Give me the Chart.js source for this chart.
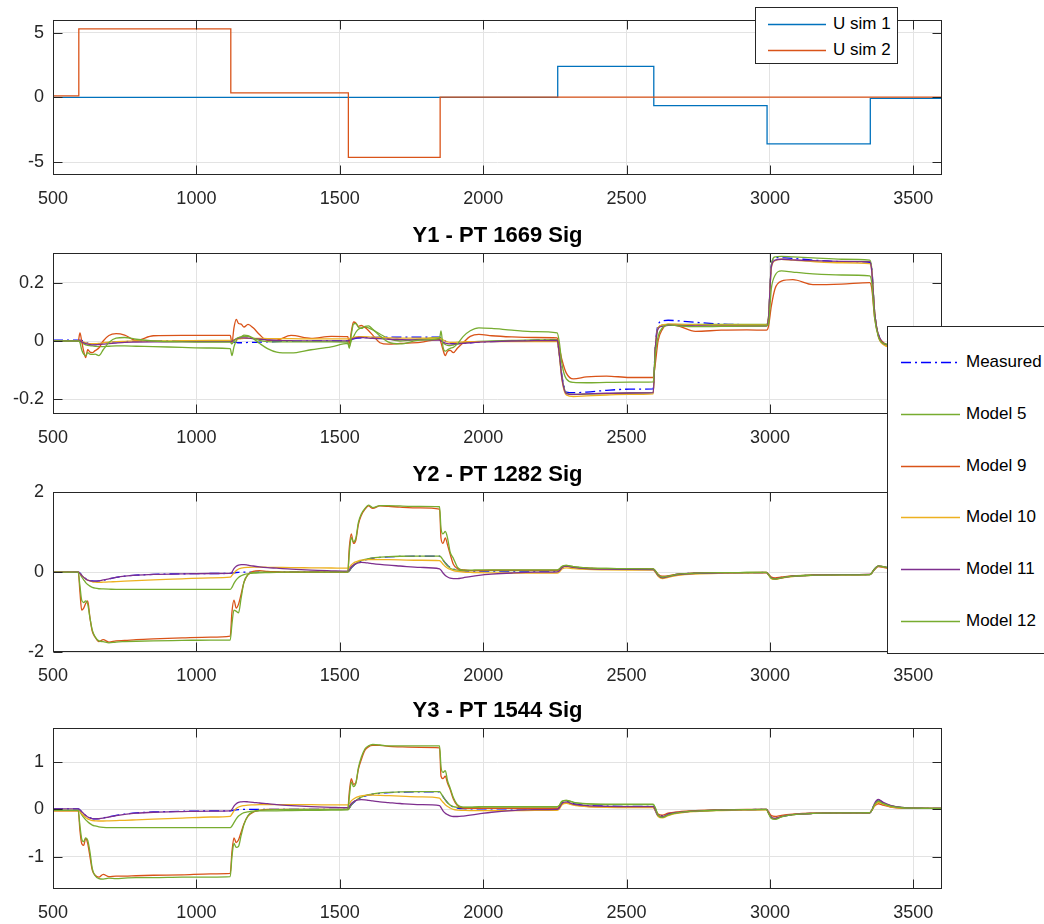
<!DOCTYPE html>
<html>
<head>
<meta charset="utf-8">
<script src="https://cdn.jsdelivr.net/npm/chart.js@4.4.1/dist/chart.umd.min.js"></script>
<style>
  html, body { margin: 0; padding: 0; background: #fff; width: 1044px; height: 924px; overflow: hidden; }
  #wrap { position: relative; width: 1044px; height: 924px; overflow: hidden; }
  #wrap canvas { position: absolute; left: 0; }
  .legend { position: absolute; background: #fff; border: 1px solid #262626; box-sizing: border-box;
            font-family: 'Liberation Sans', Arial, sans-serif; font-size: 17px; color: #000; z-index: 5; }
  .legend .row { position: absolute; left: 0; height: 20px; line-height: 20px; white-space: nowrap; }
  .legend svg { position: absolute; top: 0; }
  .legend span { position: absolute; top: 0; }
</style>
</head>
<body>
<div id="wrap">
  <canvas id="cU"  width="1044" height="215" style="top:0px"></canvas>
  <canvas id="cY1" width="1044" height="232" style="top:222px"></canvas>
  <canvas id="cY2" width="1044" height="231" style="top:461px"></canvas>
  <canvas id="cY3" width="1044" height="227" style="top:697px"></canvas>
  <div id="legU" class="legend" style="left:755px;top:7px;width:143px;height:57px"></div>
  <div id="legY" class="legend" style="left:887px;top:326px;width:220px;height:328px"></div>
</div>
<script>
// ---- tick values ----
const X_TICKS  = [500, 1000, 1500, 2000, 2500, 3000, 3500];
const U_TICKS  = [-5, 0, 5];
const Y1_TICKS = [-0.2, 0, 0.2];
const Y2_TICKS = [-2, 0, 2];
const Y3_TICKS = [-1, 0, 1];

// ---- input signals (value holds from each switching time onward) ----
const U1_TIME = [500, 2260, 2595, 2990, 3350, 3600];
const U1      = [0, 2.4, -0.63, -3.6, -0.08, -0.08];
const U2_TIME = [500, 590, 1120, 1530, 1850, 3600];
const U2      = [0.12, 5.3, 0.35, -4.64, 0.02, 0.02];

// ---- sample times shared by all output series ----
const T = [
  500,588,594,600,607,614,621,629,637,647,660,675,695,720,750,790,850,950,1050,1118,
  1124,1131,1139,1147,1156,1166,1180,1198,1220,1248,1280,1330,1400,1470,1528,
  1533,1540,1548,1556,1565,1575,1588,1600,1615,1640,1670,1710,1780,1848,
  1853,1860,1868,1876,1885,1896,1910,1930,1955,1985,2030,2100,2180,2258,
  2265,2275,2290,2315,2360,2430,2510,2593,
  2600,2610,2625,2645,2680,2740,2830,2920,2988,
  2995,3005,3018,3040,3080,3150,3250,3348,
  3355,3365,3378,3395,3420,3460,3530,3600
];

// ---- Y1 - PT 1669 ----
const Y1_MEAS = [
  0.003,0.003,0.003,0.002,0.0,-0.004,-0.007,-0.009,-0.01,-0.01,-0.009,-0.007,-0.005,-0.003,-0.002,-0.001,0.0,0.0,0.0,0.0,
  -0.002,-0.004,-0.005,-0.006,-0.006,-0.006,-0.005,-0.005,-0.004,-0.003,-0.002,-0.001,0.0,0.0,0.0,
  0.001,0.004,0.007,0.009,0.01,0.011,0.012,0.012,0.012,0.013,0.013,0.013,0.013,0.013,
  0.01,0.005,0.0,-0.004,-0.007,-0.009,-0.009,-0.008,-0.006,-0.004,-0.002,0.0,0.003,0.005,
  -0.04,-0.12,-0.175,-0.177,-0.175,-0.169,-0.165,-0.164,
  -0.02,0.055,0.069,0.071,0.069,0.064,0.058,0.056,0.055,
  0.08,0.26,0.286,0.285,0.283,0.277,0.272,0.269,
  0.25,0.1,0.025,-0.005,-0.01,-0.012,-0.01,-0.008
];
const Y1_M5 = [
  0.0,0.0,-0.002,-0.006,-0.01,-0.013,-0.015,-0.016,-0.017,-0.018,-0.019,-0.019,-0.018,-0.017,-0.017,-0.018,-0.019,-0.022,-0.024,-0.026,
  -0.05,-0.02,0.0,0.01,0.014,0.016,0.016,0.008,-0.008,-0.026,-0.038,-0.041,-0.03,-0.02,-0.008,
  -0.02,0.0,0.015,0.03,0.04,0.045,0.048,0.045,0.038,0.024,0.008,0.0,0.006,0.012,
  0.005,-0.005,-0.012,-0.015,-0.016,-0.014,-0.01,-0.006,-0.003,-0.001,0.0,0.002,0.004,0.005,
  -0.04,-0.125,-0.178,-0.183,-0.182,-0.18,-0.178,-0.177,
  -0.03,0.045,0.055,0.057,0.057,0.057,0.057,0.057,0.057,
  0.08,0.26,0.288,0.29,0.288,0.285,0.28,0.277,
  0.25,0.1,0.02,-0.008,-0.015,-0.015,-0.012,-0.01
];
const Y1_M9 = [
  0.0,0.0,0.028,0.0,-0.035,-0.057,-0.03,-0.038,-0.04,-0.033,-0.024,0.0,0.019,0.025,0.02,0.002,0.018,0.019,0.019,0.019,
  -0.006,0.045,0.074,0.06,0.058,0.048,0.057,0.045,0.022,0.002,0.003,0.019,0.009,0.016,0.015,
  -0.01,0.03,0.065,0.062,0.05,0.053,0.046,0.036,0.02,-0.006,-0.011,-0.008,-0.005,0.006,
  -0.006,-0.03,-0.05,-0.035,-0.032,-0.04,-0.025,-0.006,0.016,0.023,0.018,0.014,0.012,0.011,
  -0.02,-0.065,-0.11,-0.13,-0.123,-0.12,-0.125,-0.125,
  -0.08,0.0,0.04,0.057,0.052,0.033,0.037,0.038,0.037,
  0.05,0.12,0.18,0.205,0.21,0.193,0.195,0.2,
  0.18,0.08,0.02,-0.005,-0.015,-0.015,-0.012,-0.01
];
const Y1_M10 = [
  0.0,0.0,0.0,-0.002,-0.004,-0.006,-0.008,-0.009,-0.009,-0.009,-0.008,-0.006,-0.004,-0.002,-0.001,0.0,0.0,0.001,0.002,0.002,
  0.002,0.003,0.005,0.007,0.008,0.009,0.009,0.009,0.009,0.008,0.008,0.008,0.007,0.007,0.007,
  0.008,0.01,0.012,0.014,0.015,0.015,0.015,0.014,0.013,0.012,0.011,0.01,0.01,0.01,
  0.008,0.004,0.0,-0.003,-0.005,-0.005,-0.004,-0.003,-0.002,-0.002,-0.002,-0.002,-0.002,-0.002,
  -0.045,-0.135,-0.185,-0.19,-0.188,-0.185,-0.183,-0.181,
  -0.03,0.045,0.055,0.058,0.057,0.055,0.054,0.054,0.054,
  0.08,0.25,0.275,0.28,0.277,0.272,0.268,0.265,
  0.24,0.1,0.015,-0.012,-0.02,-0.018,-0.014,-0.01
];
const Y1_M11 = [
  0.0,0.0,0.0,-0.003,-0.006,-0.009,-0.011,-0.012,-0.013,-0.013,-0.012,-0.011,-0.009,-0.007,-0.005,-0.004,-0.003,-0.002,-0.002,-0.002,
  0.0,0.003,0.007,0.01,0.011,0.011,0.01,0.008,0.006,0.004,0.002,0.001,0.0,0.0,0.0,
  0.002,0.006,0.009,0.011,0.012,0.012,0.011,0.01,0.009,0.008,0.006,0.005,0.004,0.003,
  0.0,-0.004,-0.007,-0.009,-0.01,-0.01,-0.009,-0.008,-0.006,-0.004,-0.002,0.0,0.001,0.002,
  -0.04,-0.13,-0.18,-0.183,-0.181,-0.179,-0.178,-0.177,
  -0.03,0.042,0.05,0.054,0.053,0.052,0.051,0.051,0.051,
  0.08,0.255,0.277,0.28,0.278,0.275,0.273,0.272,
  0.24,0.1,0.02,-0.008,-0.013,-0.013,-0.01,-0.008
];
const Y1_M12 = [
  0.0,0.0,-0.005,-0.03,-0.045,-0.05,-0.04,-0.045,-0.046,-0.045,-0.05,-0.03,-0.005,0.01,0.012,0.006,0.0,-0.003,-0.004,-0.004,
  -0.01,0.0,0.008,0.012,0.014,0.02,0.018,0.01,0.002,-0.002,-0.003,-0.003,-0.003,-0.003,-0.004,
  -0.025,0.02,0.058,0.06,0.047,0.043,0.05,0.052,0.04,0.017,-0.004,-0.01,0.003,0.009,
  0.035,-0.02,-0.035,-0.03,-0.025,-0.022,-0.01,0.015,0.035,0.045,0.043,0.037,0.032,0.028,
  0.0,-0.08,-0.13,-0.142,-0.143,-0.142,-0.141,-0.14,
  -0.05,0.015,0.045,0.055,0.052,0.049,0.05,0.051,0.052,
  0.06,0.18,0.225,0.24,0.236,0.23,0.226,0.223,
  0.2,0.08,0.015,-0.008,-0.012,-0.012,-0.01,-0.008
];

// ---- Y2 - PT 1282 ----
const Y2_MEAS = [
  0.0,0.0,-0.02,-0.07,-0.12,-0.16,-0.19,-0.21,-0.22,-0.225,-0.22,-0.2,-0.17,-0.13,-0.1,-0.075,-0.055,-0.04,-0.033,-0.03,
  -0.025,-0.015,-0.008,-0.003,0.0,0.002,0.003,0.003,0.003,0.003,0.003,0.003,0.003,0.003,0.003,
  0.03,0.1,0.16,0.21,0.25,0.28,0.31,0.33,0.35,0.37,0.385,0.395,0.4,0.4,
  0.37,0.3,0.23,0.17,0.12,0.08,0.05,0.035,0.03,0.03,0.03,0.03,0.03,0.03,
  0.06,0.13,0.16,0.13,0.1,0.085,0.08,0.075,
  0.03,-0.08,-0.14,-0.1,-0.05,-0.025,-0.015,-0.01,-0.008,
  -0.06,-0.14,-0.16,-0.135,-0.1,-0.075,-0.062,-0.058,
  -0.02,0.08,0.15,0.13,0.09,0.06,0.04,0.03
];
const Y2_M5 = [
  0.0,0.0,-0.04,-0.12,-0.19,-0.26,-0.31,-0.35,-0.38,-0.4,-0.415,-0.42,-0.425,-0.43,-0.43,-0.43,-0.43,-0.43,-0.43,-0.43,
  -0.38,-0.28,-0.19,-0.13,-0.09,-0.06,-0.04,-0.025,-0.015,-0.01,-0.005,0.0,0.0,0.0,0.0,
  0.03,0.11,0.17,0.22,0.26,0.29,0.32,0.34,0.36,0.375,0.39,0.4,0.405,0.405,
  0.38,0.31,0.23,0.16,0.1,0.07,0.05,0.04,0.04,0.04,0.04,0.04,0.04,0.04,
  0.07,0.14,0.17,0.14,0.11,0.095,0.09,0.085,
  0.04,-0.07,-0.13,-0.1,-0.05,-0.025,-0.012,-0.008,-0.005,
  -0.06,-0.15,-0.17,-0.14,-0.1,-0.075,-0.065,-0.06,
  -0.02,0.08,0.16,0.14,0.1,0.06,0.04,0.03
];
const Y2_M9 = [
  0.0,0.0,-0.5,-0.95,-0.9,-0.78,-0.72,-1.15,-1.48,-1.63,-1.74,-1.69,-1.75,-1.72,-1.71,-1.69,-1.67,-1.645,-1.625,-1.6,
  -1.0,-0.7,-0.9,-0.8,-0.55,-0.25,-0.06,0.02,0.04,0.02,0.01,0.0,0.0,0.0,0.0,
  0.6,0.96,0.72,0.8,1.2,1.42,1.58,1.66,1.6,1.66,1.65,1.63,1.61,1.58,
  0.85,0.72,0.86,0.68,0.45,0.2,0.09,0.06,0.04,0.04,0.05,0.05,0.05,0.05,
  0.07,0.13,0.15,0.12,0.1,0.085,0.08,0.075,
  0.03,-0.05,-0.1,-0.09,-0.05,-0.025,-0.015,-0.01,-0.008,
  -0.05,-0.12,-0.14,-0.12,-0.09,-0.07,-0.06,-0.055,
  -0.02,0.07,0.14,0.12,0.09,0.06,0.04,0.03
];
const Y2_M10 = [
  0.0,0.0,-0.03,-0.08,-0.13,-0.17,-0.2,-0.22,-0.24,-0.25,-0.255,-0.25,-0.245,-0.235,-0.225,-0.21,-0.19,-0.165,-0.14,-0.125,
  -0.08,-0.02,0.04,0.08,0.1,0.115,0.122,0.125,0.125,0.123,0.12,0.115,0.11,0.105,0.1,
  0.12,0.18,0.23,0.26,0.285,0.3,0.31,0.315,0.318,0.317,0.313,0.308,0.3,0.29,
  0.26,0.2,0.14,0.1,0.07,0.04,0.02,0.005,-0.005,-0.012,-0.018,-0.02,-0.02,-0.02,
  0.0,0.08,0.11,0.09,0.07,0.06,0.055,0.05,
  0.0,-0.1,-0.16,-0.13,-0.08,-0.045,-0.025,-0.018,-0.015,
  -0.07,-0.16,-0.18,-0.15,-0.11,-0.08,-0.068,-0.063,
  -0.02,0.07,0.15,0.13,0.09,0.06,0.04,0.03
];
const Y2_M11 = [
  0.0,0.0,-0.03,-0.08,-0.13,-0.17,-0.2,-0.215,-0.225,-0.225,-0.215,-0.195,-0.165,-0.13,-0.1,-0.075,-0.055,-0.04,-0.033,-0.03,
  0.0,0.09,0.15,0.18,0.19,0.19,0.175,0.155,0.135,0.115,0.1,0.075,0.05,0.035,0.025,
  0.06,0.13,0.18,0.21,0.235,0.245,0.24,0.23,0.215,0.195,0.175,0.155,0.12,0.085,
  0.05,-0.02,-0.08,-0.12,-0.15,-0.16,-0.16,-0.14,-0.11,-0.08,-0.05,-0.02,0.0,0.01,
  0.03,0.11,0.15,0.12,0.09,0.075,0.07,0.065,
  0.02,-0.08,-0.14,-0.11,-0.06,-0.03,-0.018,-0.012,-0.01,
  -0.06,-0.14,-0.165,-0.14,-0.1,-0.075,-0.063,-0.058,
  -0.02,0.08,0.16,0.14,0.1,0.06,0.04,0.03
];
const Y2_M12 = [
  0.0,0.0,-0.35,-0.7,-0.76,-0.72,-0.8,-1.15,-1.45,-1.62,-1.72,-1.74,-1.77,-1.75,-1.74,-1.73,-1.72,-1.71,-1.7,-1.7,
  -1.3,-0.95,-0.98,-1.02,-0.65,-0.25,-0.06,-0.01,0.0,0.0,0.0,0.0,0.0,0.0,0.0,
  0.45,0.87,0.76,0.85,1.25,1.46,1.6,1.68,1.62,1.67,1.67,1.66,1.65,1.64,
  1.1,0.96,1.02,0.85,0.5,0.35,0.13,0.05,0.05,0.06,0.06,0.06,0.06,0.06,
  0.08,0.15,0.17,0.14,0.11,0.095,0.09,0.085,
  0.04,-0.06,-0.12,-0.1,-0.05,-0.025,-0.012,-0.008,-0.006,
  -0.06,-0.15,-0.17,-0.14,-0.1,-0.075,-0.065,-0.06,
  -0.02,0.08,0.16,0.14,0.1,0.06,0.04,0.03
];

// ---- Y3 - PT 1544 ----
const Y3_MEAS = [
  0.01,0.01,-0.01,-0.05,-0.09,-0.13,-0.16,-0.18,-0.195,-0.2,-0.195,-0.18,-0.155,-0.125,-0.1,-0.075,-0.055,-0.04,-0.033,-0.03,
  -0.025,-0.015,-0.008,-0.003,0.0,0.0,0.0,0.0,0.0,0.0,0.0,0.0,0.0,0.0,0.0,
  0.03,0.09,0.14,0.18,0.22,0.25,0.28,0.3,0.32,0.34,0.355,0.365,0.37,0.37,
  0.34,0.27,0.2,0.14,0.09,0.05,0.03,0.015,0.01,0.01,0.01,0.01,0.01,0.01,
  0.04,0.14,0.17,0.12,0.085,0.07,0.065,0.065,
  -0.02,-0.13,-0.13,-0.09,-0.06,-0.035,-0.015,-0.005,0.0,
  -0.07,-0.16,-0.185,-0.15,-0.11,-0.085,-0.075,-0.07,
  -0.02,0.12,0.2,0.14,0.08,0.035,0.02,0.02
];
const Y3_M5 = [
  -0.02,-0.02,-0.05,-0.11,-0.17,-0.22,-0.26,-0.3,-0.33,-0.35,-0.37,-0.38,-0.385,-0.385,-0.385,-0.385,-0.385,-0.385,-0.385,-0.385,
  -0.35,-0.28,-0.2,-0.14,-0.1,-0.07,-0.05,-0.035,-0.03,-0.03,-0.03,-0.025,-0.02,-0.015,-0.01,
  0.02,0.09,0.15,0.19,0.23,0.26,0.29,0.31,0.33,0.35,0.36,0.37,0.375,0.375,
  0.34,0.27,0.2,0.14,0.09,0.06,0.045,0.04,0.04,0.045,0.05,0.05,0.05,0.05,
  0.08,0.17,0.19,0.15,0.115,0.1,0.1,0.1,
  0.03,-0.12,-0.17,-0.12,-0.07,-0.035,-0.015,-0.005,0.0,
  -0.08,-0.18,-0.2,-0.15,-0.11,-0.085,-0.075,-0.07,
  -0.02,0.1,0.18,0.13,0.08,0.04,0.025,0.02
];
const Y3_M9 = [
  -0.03,-0.03,-0.45,-0.72,-0.76,-0.61,-0.72,-1.0,-1.28,-1.39,-1.43,-1.37,-1.42,-1.41,-1.41,-1.4,-1.39,-1.38,-1.36,-1.35,
  -0.9,-0.6,-0.7,-0.64,-0.48,-0.3,-0.14,-0.06,-0.02,0.0,0.0,0.0,0.0,0.0,0.0,
  0.35,0.65,0.53,0.56,0.85,1.05,1.25,1.32,1.35,1.35,1.33,1.32,1.31,1.3,
  0.7,0.65,0.7,0.55,0.42,0.22,0.08,0.03,0.02,0.02,0.02,0.02,0.02,0.02,
  0.04,0.12,0.14,0.1,0.065,0.05,0.045,0.045,
  -0.01,-0.1,-0.12,-0.08,-0.05,-0.025,-0.01,0.0,0.0,
  -0.05,-0.13,-0.15,-0.125,-0.1,-0.08,-0.075,-0.07,
  -0.02,0.07,0.12,0.09,0.05,0.025,0.02,0.02
];
const Y3_M10 = [
  -0.03,-0.03,-0.05,-0.09,-0.13,-0.17,-0.2,-0.22,-0.235,-0.24,-0.245,-0.245,-0.24,-0.235,-0.23,-0.22,-0.205,-0.185,-0.16,-0.145,
  -0.1,-0.03,0.02,0.05,0.07,0.08,0.09,0.095,0.1,0.1,0.1,0.1,0.1,0.095,0.095,
  0.12,0.18,0.22,0.25,0.27,0.285,0.295,0.3,0.3,0.298,0.29,0.28,0.265,0.24,
  0.2,0.15,0.1,0.06,0.03,0.0,-0.015,-0.02,-0.025,-0.025,-0.025,-0.025,-0.02,-0.02,
  0.0,0.1,0.13,0.09,0.06,0.045,0.04,0.04,
  -0.02,-0.15,-0.18,-0.13,-0.08,-0.045,-0.025,-0.015,-0.01,
  -0.08,-0.17,-0.19,-0.15,-0.11,-0.085,-0.075,-0.07,
  -0.02,0.08,0.15,0.11,0.06,0.03,0.02,0.02
];
const Y3_M11 = [
  0.01,0.01,-0.01,-0.05,-0.09,-0.13,-0.16,-0.18,-0.195,-0.2,-0.197,-0.185,-0.16,-0.13,-0.105,-0.08,-0.06,-0.045,-0.035,-0.03,
  0.0,0.07,0.12,0.15,0.16,0.165,0.16,0.15,0.135,0.12,0.1,0.08,0.06,0.045,0.035,
  0.06,0.12,0.16,0.185,0.2,0.205,0.2,0.19,0.18,0.16,0.145,0.125,0.1,0.08,
  0.04,-0.03,-0.08,-0.11,-0.135,-0.15,-0.15,-0.14,-0.12,-0.095,-0.06,-0.025,-0.005,0.0,
  0.03,0.13,0.16,0.11,0.08,0.065,0.06,0.06,
  0.0,-0.13,-0.15,-0.1,-0.065,-0.035,-0.015,-0.005,0.0,
  -0.07,-0.17,-0.19,-0.15,-0.11,-0.085,-0.075,-0.07,
  -0.02,0.13,0.21,0.15,0.085,0.04,0.025,0.02
];
const Y3_M12 = [
  -0.02,-0.02,-0.35,-0.62,-0.68,-0.6,-0.65,-0.9,-1.25,-1.4,-1.46,-1.47,-1.45,-1.46,-1.45,-1.44,-1.44,-1.43,-1.43,-1.42,
  -1.0,-0.72,-0.8,-0.78,-0.55,-0.32,-0.13,-0.05,-0.02,-0.01,-0.005,0.0,0.0,0.0,0.0,
  0.25,0.58,0.48,0.55,0.88,1.1,1.28,1.34,1.37,1.36,1.34,1.34,1.34,1.34,
  0.9,0.78,0.82,0.6,0.45,0.25,0.1,0.05,0.05,0.06,0.06,0.06,0.06,0.06,
  0.08,0.17,0.19,0.15,0.12,0.11,0.11,0.11,
  0.04,-0.12,-0.17,-0.12,-0.07,-0.035,-0.015,-0.005,0.0,
  -0.08,-0.19,-0.21,-0.16,-0.11,-0.085,-0.075,-0.07,
  -0.02,0.1,0.17,0.12,0.07,0.035,0.025,0.02
];

// ---- names ----
const U_NAMES = ['U sim 1', 'U sim 2'];
const SERIES  = ['Measured', 'Model 5', 'Model 9', 'Model 10', 'Model 11', 'Model 12'];

// ---- styles ----
const FONT = "'Liberation Sans', Arial, Helvetica, sans-serif";
const INK = '#262626';
const GRID = '#e3e3e3';
const U_COLORS = ['#0072BD', '#D95319'];
const S_COLORS = ['#0000FF', '#77AC30', '#D95319', '#EDB120', '#7E2F8E', '#77AC30'];
const S_DASH   = [[10, 4, 2, 4], [], [], [], [], []];
const LINE_W = 1.3;

// inward tick marks on all four sides plus the closed axes box
const axesBox = {
  id: 'axesBox',
  afterDatasetsDraw(chart) {
    const { ctx, chartArea: a, scales: { x, y } } = chart;
    const L = 9;
    const l = Math.round(a.left) + 0.5, r = Math.round(a.right) - 0.5;
    const t = Math.round(a.top) + 0.5, b = Math.round(a.bottom) - 0.5;
    ctx.save();
    ctx.strokeStyle = INK;
    ctx.lineWidth = 1;
    ctx.beginPath();
    x.ticks.forEach(tk => {
      const px = Math.round(x.getPixelForValue(tk.value)) + 0.5;
      ctx.moveTo(px, b); ctx.lineTo(px, b - L);
      ctx.moveTo(px, t); ctx.lineTo(px, t + L);
    });
    y.ticks.forEach(tk => {
      const py = Math.round(y.getPixelForValue(tk.value)) + 0.5;
      ctx.moveTo(l, py); ctx.lineTo(l + L, py);
      ctx.moveTo(r, py); ctx.lineTo(r - L, py);
    });
    ctx.stroke();
    ctx.strokeRect(l, t, r - l, b - t);
    ctx.restore();
  }
};

function scales(yMin, yMax, yTicks, xH) {
  const tickFont = { family: FONT, size: 18 };
  return {
    x: {
      type: 'linear', min: 500, max: 3600,
      afterBuildTicks: s => { s.ticks = X_TICKS.map(v => ({ value: v })); },
      afterFit: s => { s.height = xH; },
      grid: { color: GRID, lineWidth: 1, drawTicks: false },
      border: { display: false },
      ticks: { color: INK, font: tickFont, padding: 13, maxRotation: 0, autoSkip: false, callback: v => String(v) }
    },
    y: {
      type: 'linear', min: yMin, max: yMax,
      afterBuildTicks: s => { s.ticks = yTicks.map(v => ({ value: v })); },
      afterFit: s => { s.width = 53; },
      grid: { color: GRID, lineWidth: 1, drawTicks: false },
      border: { display: false },
      ticks: { color: INK, font: tickFont, padding: 9, callback: v => String(v) }
    }
  };
}

function pairs(xs, ys) { return xs.map((t, i) => ({ x: t, y: ys[i] })); }

const common = {
  responsive: false, animation: false, events: [],
  elements: { point: { radius: 0 } }
};

// input signals
new Chart(document.getElementById('cU'), {
  type: 'line',
  data: {
    datasets: [
      { label: U_NAMES[0], data: pairs(U1_TIME, U1), borderColor: U_COLORS[0], borderWidth: LINE_W, stepped: true, order: 0 },
      { label: U_NAMES[1], data: pairs(U2_TIME, U2), borderColor: U_COLORS[1], borderWidth: LINE_W, stepped: true, order: -1 }
    ]
  },
  options: Object.assign({}, common, {
    layout: { padding: { left: 0, right: 102, top: 15, bottom: 0 } },
    scales: scales(-6, 6, U_TICKS, 40),
    plugins: { legend: { display: false }, title: { display: false }, tooltip: { enabled: false } }
  }),
  plugins: [axesBox]
});

function outputChart(id, title, series, yMin, yMax, yTicks, xH) {
  new Chart(document.getElementById(id), {
    type: 'line',
    data: {
      datasets: series.map((ys, i) => ({
        label: SERIES[i], data: pairs(T, ys), borderColor: S_COLORS[i], borderWidth: LINE_W,
        borderDash: S_DASH[i], cubicInterpolationMode: 'monotone', order: -i
      }))
    },
    options: Object.assign({}, common, {
      layout: { padding: { left: 0, right: 102, top: 1, bottom: 0 } },
      scales: scales(yMin, yMax, yTicks, xH),
      plugins: {
        legend: { display: false }, tooltip: { enabled: false },
        title: { display: true, text: title, fullSize: false, color: '#000',
                 font: { family: FONT, size: 22, weight: 'bold' }, padding: { top: 0, bottom: 4 } }
      }
    }),
    plugins: [axesBox]
  });
}

outputChart('cY1', 'Y1 - PT 1669 Sig', [Y1_MEAS, Y1_M5, Y1_M9, Y1_M10, Y1_M11, Y1_M12], -0.25, 0.3, Y1_TICKS, 40);
outputChart('cY2', 'Y2 - PT 1282 Sig', [Y2_MEAS, Y2_M5, Y2_M9, Y2_M10, Y2_M11, Y2_M12], -2, 2, Y2_TICKS, 40);
outputChart('cY3', 'Y3 - PT 1544 Sig', [Y3_MEAS, Y3_M5, Y3_M9, Y3_M10, Y3_M11, Y3_M12], -1.68, 1.71, Y3_TICKS, 35);

// legend boxes
const SVGNS = 'http://www.w3.org/2000/svg';
function legendRow(box, name, color, dash, cy, x0, x1, tx) {
  const row = document.createElement('div');
  row.className = 'row';
  row.style.top = (cy - 10) + 'px';
  row.style.width = '100%';
  const svg = document.createElementNS(SVGNS, 'svg');
  svg.setAttribute('width', x1 + 2);
  svg.setAttribute('height', 20);
  svg.style.left = '0px';
  const ln = document.createElementNS(SVGNS, 'line');
  ln.setAttribute('x1', x0); ln.setAttribute('x2', x1);
  ln.setAttribute('y1', 10.5); ln.setAttribute('y2', 10.5);
  ln.setAttribute('stroke', color); ln.setAttribute('stroke-width', LINE_W);
  if (dash.length) ln.setAttribute('stroke-dasharray', dash.join(' '));
  svg.appendChild(ln);
  row.appendChild(svg);
  const sp = document.createElement('span');
  sp.style.left = tx + 'px';
  sp.textContent = name;
  row.appendChild(sp);
  box.appendChild(row);
}
const legU = document.getElementById('legU');
U_NAMES.forEach((n, i) => legendRow(legU, n, U_COLORS[i], [], 16 + i * 26, 12, 70, 77));
const legY = document.getElementById('legY');
SERIES.forEach((n, i) => legendRow(legY, n, S_COLORS[i], S_DASH[i], 35 + i * 51.8, 13, 72, 78));
</script>
</body>
</html>
